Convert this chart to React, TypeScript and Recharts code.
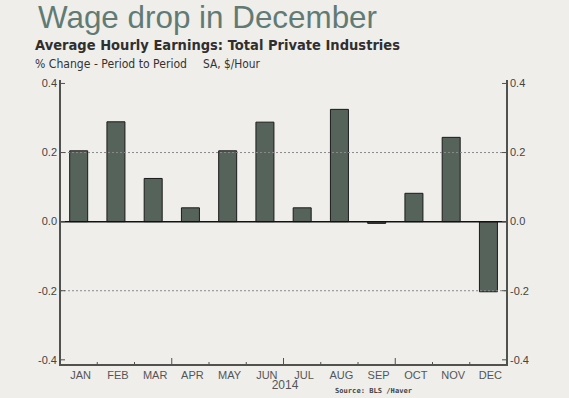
import React from 'react';
import { BarChart, Bar, XAxis, YAxis, ReferenceLine } from 'recharts';

const months = ['JAN', 'FEB', 'MAR', 'APR', 'MAY', 'JUN', 'JUL', 'AUG', 'SEP', 'OCT', 'NOV', 'DEC'];
const changes = [0.205, 0.289, 0.125, 0.04, 0.205, 0.288, 0.04, 0.325, -0.005, 0.082, 0.244, -0.203];
const yTicks = [-0.4, -0.2, 0, 0.2, 0.4];
const yDomain: [number, number] = [-0.415, 0.41];

const data = months.map((m, i) => ({ m, v: changes[i] }));

const BG = '#efeeeb';
const FRAME = '#4f524f';
const FONT = 'Liberation Sans, Arial, sans-serif';

const LeftTick = (props: any) => {
  const { x, y, payload } = props;
  return (
    <g>
      <line x1={x} x2={x + 5} y1={y} y2={y} stroke={FRAME} strokeWidth={1} />
      <text x={x - 3} y={y} dy="0.35em" textAnchor="end" fontSize={11} fill="#444" fontFamily={FONT}>
        {Number(payload.value).toFixed(1)}
      </text>
    </g>
  );
};

const RightTick = (props: any) => {
  const { x, y, payload } = props;
  return (
    <g>
      <line x1={x - 5} x2={x} y1={y} y2={y} stroke={FRAME} strokeWidth={1} />
      <text x={x + 3} y={y} dy="0.35em" textAnchor="start" fontSize={11} fill="#444" fontFamily={FONT}>
        {Number(payload.value).toFixed(1)}
      </text>
    </g>
  );
};

const MonthTick = (props: any) => {
  const { x, y, payload, index } = props;
  const half = Number(payload.offset) || 0;
  const len = (i: number) => (i === 0 || i === 12 ? 10 : i % 3 === 0 ? 7 : 3);
  return (
    <g>
      {half > 0 && (
        <line x1={x - half} x2={x - half} y1={y} y2={y - len(index)} stroke={FRAME} strokeWidth={1} />
      )}
      {half > 0 && index === months.length - 1 && (
        <line x1={x + half} x2={x + half} y1={y} y2={y - len(12)} stroke={FRAME} strokeWidth={1} />
      )}
      {half > 0 && (
        <line x1={x - half - 1} x2={x + half + 1} y1={y} y2={y} stroke={FRAME} strokeWidth={2} />
      )}
      <text x={x + 2} y={y + 6} dy="0.71em" textAnchor="middle" fontSize={11} fill="#555" fontFamily={FONT}>
        {payload.value}
      </text>
    </g>
  );
};

export default function App() {
  return (
    <div style={{ position: 'absolute', left: 0, top: 0, width: 569, height: 398, background: BG, overflow: 'hidden' }}>
      <BarChart
        width={569}
        height={398}
        data={data}
        margin={{ top: 80, right: 32, left: 30, bottom: 0 }}
        barCategoryGap="26%"
      >
        <XAxis
          xAxisId="top"
          orientation="top"
          dataKey="m"
          height={0}
          tickLine={false}
          axisLine={false}
          tickSize={0}
          tickMargin={0}
          interval={0}
          tick={(p: any) => {
            const half = Number(p.payload.offset) || 0;
            return <line x1={p.x - half - 1} x2={p.x + half + 1} y1={p.y} y2={p.y} stroke={FRAME} strokeWidth={2} />;
          }}
        />
        <XAxis
          xAxisId="c"
          dataKey="m"
          height={33}
          tickLine={false}
          axisLine={{ stroke: FRAME, strokeWidth: 2 }}
          tickSize={0}
          tickMargin={0}
          interval={0}
          tick={<MonthTick />}
        />
        <YAxis
          yAxisId="l"
          orientation="left"
          width={30}
          domain={yDomain}
          ticks={yTicks}
          allowDataOverflow
          tickSize={0}
          tickMargin={0}
          tickLine={false}
          axisLine={{ stroke: FRAME, strokeWidth: 2 }}
          tick={<LeftTick />}
        />
        <YAxis
          yAxisId="r"
          orientation="right"
          width={30}
          domain={yDomain}
          ticks={yTicks}
          allowDataOverflow
          tickSize={0}
          tickMargin={0}
          tickLine={false}
          axisLine={{ stroke: FRAME, strokeWidth: 2 }}
          tick={<RightTick />}
        />
        <ReferenceLine xAxisId="c" yAxisId="l" y={0.2} stroke="#8a8a8a" strokeDasharray="2 2" />
        <ReferenceLine xAxisId="c" yAxisId="l" y={-0.2} stroke="#8a8a8a" strokeDasharray="2 2" />
        <Bar xAxisId="c" yAxisId="l" dataKey="v" fill="#56635b" stroke="#1a1a1a" strokeWidth={1} isAnimationActive={false} />
        <ReferenceLine xAxisId="c" yAxisId="l" y={0} stroke="#111" strokeWidth={1.5} />
      </BarChart>
      <svg width={569} height={398} style={{ position: 'absolute', left: 0, top: 0, pointerEvents: 'none' }}>
        <text x={38} y={28} fontSize={30.5} fill="#617b74" fontFamily={FONT} textLength={339} lengthAdjust="spacingAndGlyphs">
          Wage drop in December
        </text>
        <text x={35} y={50} fontSize={14} fontWeight="bold" fill="#2f2f2f" fontFamily="DejaVu Sans, Verdana, sans-serif" textLength={365} lengthAdjust="spacingAndGlyphs">
          Average Hourly Earnings: Total Private Industries
        </text>
        <text x={35} y={68} fontSize={11.5} fill="#333" fontFamily="DejaVu Sans, Tahoma, sans-serif" textLength={152} lengthAdjust="spacingAndGlyphs">
          % Change - Period to Period
        </text>
        <text x={203} y={68} fontSize={11.5} fill="#333" fontFamily="DejaVu Sans, Tahoma, sans-serif" textLength={57} lengthAdjust="spacingAndGlyphs">
          SA, $/Hour
        </text>
        <text x={285} y={389} fontSize={12} fill="#555" textAnchor="middle" fontFamily={FONT}>
          2014
        </text>
        <text x={335} y={393} fontSize={7} fontWeight="bold" fill="#444" fontFamily="DejaVu Sans Mono, monospace" textLength={77} lengthAdjust="spacingAndGlyphs">
          Source: BLS /Haver
        </text>
      </svg>
    </div>
  );
}
